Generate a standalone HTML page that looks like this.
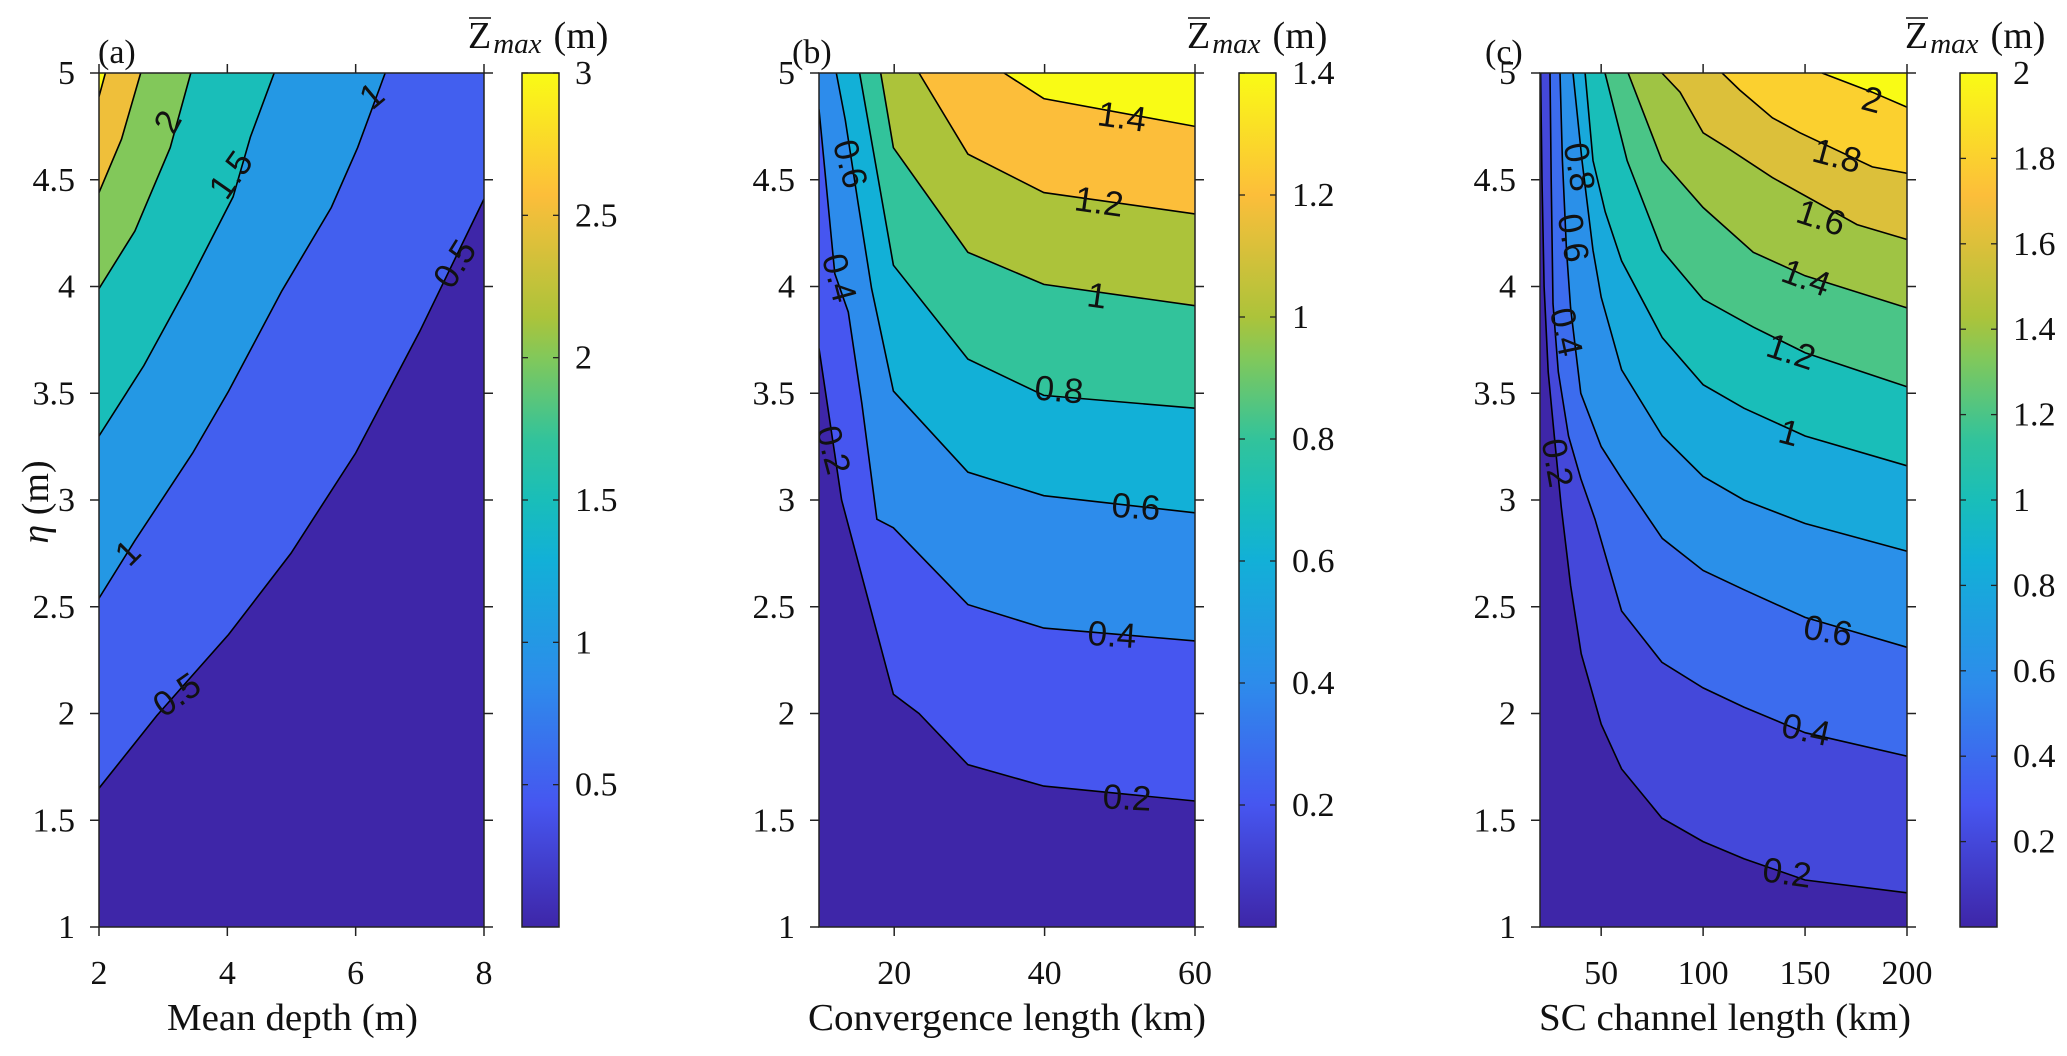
<!DOCTYPE html>
<html><head><meta charset="utf-8"><title>Z max contours</title>
<style>
html,body{margin:0;padding:0;background:#fff;}
svg{display:block;}
text{font-family:"Liberation Serif",serif;fill:#111;}
.cl{font-family:"Liberation Sans",sans-serif;font-size:35px;}
</style></head>
<body>
<svg id="fig" width="2067" height="1056" viewBox="0 0 2067 1056" xmlns="http://www.w3.org/2000/svg">
<defs>
<linearGradient id="parula" x1="0" y1="1" x2="0" y2="0">
<stop offset="0" stop-color="rgb(62,38,168)"/>
<stop offset="0.143" stop-color="rgb(70,86,240)"/>
<stop offset="0.286" stop-color="rgb(45,140,235)"/>
<stop offset="0.43" stop-color="rgb(18,176,215)"/>
<stop offset="0.5" stop-color="rgb(25,190,185)"/>
<stop offset="0.571" stop-color="rgb(50,195,155)"/>
<stop offset="0.667" stop-color="rgb(130,200,90)"/>
<stop offset="0.714" stop-color="rgb(172,195,58)"/>
<stop offset="0.857" stop-color="rgb(252,190,58)"/>
<stop offset="1" stop-color="rgb(249,251,21)"/>
</linearGradient>
</defs>
</svg>
<script>
// ---------- Panel (a) data: mean depth vs eta ----------
const aLevels = [0.5, 1, 1.5, 2, 2.5, 3];
const aXTicks = [2, 4, 6, 8];
const aYTicks = [1, 1.5, 2, 2.5, 3, 3.5, 4, 4.5, 5];
const aCbTicks = [0.5, 1, 1.5, 2, 2.5, 3];
const aC05 = [[2,1.65],[2.9,1.99],[4.02,2.37],[4.99,2.75],[6,3.22],[7,3.79],[8,4.41]];
const aC10 = [[2,2.54],[2.56,2.81],[3.46,3.22],[4.02,3.51],[4.85,3.98],[5.62,4.37],[6.03,4.65],[6.46,5]];
const aC15 = [[2,3.30],[2.7,3.63],[3.39,4.01],[4.09,4.42],[4.36,4.70],[4.73,5]];
const aC20 = [[2,3.99],[2.56,4.26],[3.11,4.65],[3.43,5]];
const aC25 = [[2,4.44],[2.35,4.69],[2.65,5]];
const aC30 = [[2,4.89],[2.1,5]];
const aLabelText = ["2","1.5","1","1","0.5","0.5"];

// ---------- Panel (b) data: convergence length vs eta ----------
const bLevels = [0.2, 0.4, 0.6, 0.8, 1.0, 1.2, 1.4];
const bXTicks = [20, 40, 60];
const bYTicks = [1, 1.5, 2, 2.5, 3, 3.5, 4, 4.5, 5];
const bCbTicks = [0.2, 0.4, 0.6, 0.8, 1, 1.2, 1.4];
const bC02 = [[10,3.71],[13,3.0],[19.9,2.09],[23.3,2.0],[29.8,1.76],[39.9,1.66],[60,1.59]];
const bC04 = [[10,4.83],[11.2,4.39],[12.1,4.06],[13.9,3.88],[15.7,3.45],[17.7,2.91],[19.9,2.87],[29.8,2.51],[39.9,2.40],[60,2.34]];
const bC06 = [[12.3,5],[13.5,4.78],[15.2,4.39],[17,3.99],[19.9,3.51],[29.8,3.13],[39.9,3.02],[60,2.94]];
const bC08 = [[15.4,5],[19.9,4.10],[29.8,3.66],[39.9,3.49],[60,3.43]];
const bC10 = [[18.2,5],[19.9,4.65],[29.8,4.16],[39.9,4.01],[60,3.91]];
const bC12 = [[23.3,5],[29.8,4.62],[39.9,4.44],[60,4.34]];
const bC14 = [[34.6,5],[39.9,4.88],[60,4.75]];
const bLabelText = ["1.4","1.2","1","0.8","0.6","0.4","0.2","0.6","0.4","0.2"];

// ---------- Panel (c) data: SC channel length vs eta ----------
const cLevels = [0.2, 0.4, 0.6, 0.8, 1.0, 1.2, 1.4, 1.6, 1.8, 2.0];
const cXTicks = [50, 100, 150, 200];
const cYTicks = [1, 1.5, 2, 2.5, 3, 3.5, 4, 4.5, 5];
const cCbTicks = [0.2, 0.4, 0.6, 0.8, 1, 1.2, 1.4, 1.6, 1.8, 2];
const cC02 = [[20.3,5],[21,4.5],[22,4.0],[24,3.6],[27,3.3],[30.4,2.97],[35,2.6],[40.2,2.28],[50,1.95],[60,1.74],[79.8,1.51],[100,1.40],[120,1.32],[150,1.22],[200,1.16]];
const cC04 = [[24.9,5],[25.5,4.5],[26.4,3.92],[29,3.6],[34,3.3],[40,3.1],[47,2.91],[60,2.48],[79.8,2.24],[100,2.12],[120,2.03],[150,1.91],[200,1.80]];
const cC06 = [[29.8,5],[31,4.59],[33,4.17],[35,3.9],[40,3.5],[50,3.25],[60,3.10],[80,2.82],[100,2.67],[120,2.58],[150,2.45],[200,2.31]];
const cC08 = [[36.2,5],[40.6,4.59],[46,4.17],[50,3.95],[60,3.61],[80,3.30],[100,3.11],[120,3.0],[150,2.89],[200,2.76]];
const cC10 = [[42.1,5],[46,4.59],[52,4.35],[60,4.12],[80,3.76],[100,3.54],[120,3.43],[150,3.30],[200,3.16]];
const cC12 = [[51.9,5],[62.7,4.59],[79.8,4.17],[100,3.94],[124.6,3.81],[150,3.69],[200,3.53]];
const cC14 = [[63.2,5],[79.8,4.59],[100,4.37],[124.6,4.16],[150,4.05],[200,3.9]];
const cC16 = [[79.8,5],[88.7,4.91],[100,4.72],[111.7,4.65],[134,4.51],[175.5,4.29],[200,4.22]];
const cC18 = [[109.3,5],[118,4.92],[134,4.79],[147.5,4.72],[183,4.56],[200,4.53]];
const cC20 = [[158.3,5],[183,4.91],[200,4.84]];
const cLabelText = ["2","1.8","1.6","1.4","1.2","1","0.6","0.4","0.2","0.8","0.6","0.4","0.2"];

// ---------- rendering ----------
const NS = "http://www.w3.org/2000/svg";
const svg = document.getElementById("fig");
const ANCH = [[0,62,38,168],[0.143,70,86,240],[0.286,45,140,235],[0.43,18,176,215],[0.5,25,190,185],[0.571,50,195,155],[0.667,130,200,90],[0.714,172,195,58],[0.857,252,190,58],[1,249,251,21]];
function parula(t){
  t=Math.max(0,Math.min(1,t));
  for(let i=1;i<ANCH.length;i++){
    if(t<=ANCH[i][0]){
      const a=ANCH[i-1],b=ANCH[i],f=(t-a[0])/(b[0]-a[0]);
      return "rgb("+[1,2,3].map(k=>Math.round(a[k]+(b[k]-a[k])*f)).join(",")+")";
    }
  }
  return "rgb(249,251,21)";
}
function mk(tag, parent){ const e=document.createElementNS(NS,tag); parent.appendChild(e); return e; }
function fmt(v){ return String(v); }

function drawPanel(p){
  const g = mk("g", svg);
  
  
  const sx = v => p.L + (v - p.xmin) / (p.xmax - p.xmin) * (p.R - p.L);
  const sy = v => p.B - (v - p.ymin) / (p.ymax - p.ymin) * (p.B - p.T);
  const cnorm = v => (v - p.cmin) / (p.cmax - p.cmin);

  const clip = mk("clipPath", g);
  clip.setAttribute("id", p.id + "clip");
  const cr = mk("rect", clip);
  cr.setAttribute("x", p.L); cr.setAttribute("y", p.T);
  cr.setAttribute("width", p.R - p.L); cr.setAttribute("height", p.B - p.T);

  const plot = mk("g", g);
  plot.setAttribute("clip-path", "url(#" + p.id + "clip)");
  
  

  const bg = mk("rect", plot);
  
  
  bg.setAttribute("x", p.L); bg.setAttribute("y", p.T);
  bg.setAttribute("width", p.R - p.L); bg.setAttribute("height", p.B - p.T);
  bg.setAttribute("fill", parula(0));

  p.lines.forEach((ln, k) => {
    const pts = ln.concat([[p.xmax, p.ymax], [p.xmin, p.ymax]]);
    const poly = mk("polygon", plot);
    
    
    poly.setAttribute("points", pts.map(q => sx(q[0]).toFixed(1) + "," + sy(q[1]).toFixed(1)).join(" "));
    poly.setAttribute("fill", parula(cnorm(p.levels[k])));
  });
  p.lines.forEach((ln, k) => {
    const pl = mk("polyline", plot);
    
    
    pl.setAttribute("points", ln.map(q => sx(q[0]).toFixed(1) + "," + sy(q[1]).toFixed(1)).join(" "));
    pl.setAttribute("fill", "none"); pl.setAttribute("stroke", "#000"); pl.setAttribute("stroke-width", "1.6");
  });
  p.labels.forEach((lb, i) => {
    const t = mk("text", plot);
    
    
    t.setAttribute("class", "cl");
    t.setAttribute("text-anchor", "middle");
    t.setAttribute("dominant-baseline", "central");
    t.setAttribute("transform", "translate(" + lb[0] + "," + lb[1] + ") rotate(" + lb[2] + ")");
    t.textContent = p.labelText[i];
  });

  const box = mk("rect", g);
  
  
  box.setAttribute("x", p.L); box.setAttribute("y", p.T);
  box.setAttribute("width", p.R - p.L); box.setAttribute("height", p.B - p.T);
  box.setAttribute("fill", "none"); box.setAttribute("stroke", "#222"); box.setAttribute("stroke-width", "1.5");

  p.xticks.forEach(v => {
    const x = sx(v);
    [[p.B, p.B + 9], [p.T, p.T - 9]].forEach(s => {
      const l = mk("line", g);
      
      
      l.setAttribute("x1", x); l.setAttribute("x2", x); l.setAttribute("y1", s[0]); l.setAttribute("y2", s[1]);
      l.setAttribute("stroke", "#222"); l.setAttribute("stroke-width", "1.5");
    });
    const t = mk("text", g);
    
    
    t.setAttribute("x", x); t.setAttribute("y", 984);
    t.setAttribute("text-anchor", "middle"); t.setAttribute("font-size", "34");
    t.textContent = fmt(v);
  });
  p.yticks.forEach(v => {
    const y = sy(v);
    [[p.L, p.L - 9], [p.R, p.R + 9]].forEach(s => {
      const l = mk("line", g);
      
      
      l.setAttribute("x1", s[0]); l.setAttribute("x2", s[1]); l.setAttribute("y1", y); l.setAttribute("y2", y);
      l.setAttribute("stroke", "#222"); l.setAttribute("stroke-width", "1.5");
    });
    const t = mk("text", g);
    
    
    t.setAttribute("x", p.L - 24); t.setAttribute("y", y + 11);
    t.setAttribute("text-anchor", "end"); t.setAttribute("font-size", "34");
    t.textContent = fmt(v);
  });
  const xl = mk("text", g);
  
  
  xl.setAttribute("x", p.xlX); xl.setAttribute("y", 1030);
  xl.setAttribute("font-size", "38");
  xl.setAttribute("textLength", p.xlW); xl.setAttribute("lengthAdjust", "spacingAndGlyphs");
  xl.textContent = p.xlabel;
  const pt = mk("text", g);
  
  
  pt.setAttribute("x", p.tagX); pt.setAttribute("y", 63);
  pt.setAttribute("font-size", "34");
  pt.textContent = p.tag;

  const cb = mk("rect", g);
  
  
  cb.setAttribute("x", p.cbL); cb.setAttribute("y", p.T);
  cb.setAttribute("width", 37); cb.setAttribute("height", p.B - p.T);
  cb.setAttribute("fill", "url(#parula)"); cb.setAttribute("stroke", "#222"); cb.setAttribute("stroke-width", "1.5");
  const cy = v => p.B - cnorm(v) * (p.B - p.T);
  p.cbTicks.forEach(v => {
    const y = cy(v);
    [[p.cbL, p.cbL + 6], [p.cbL + 37, p.cbL + 31]].forEach(s => {
      const l = mk("line", g);
      
      
      l.setAttribute("x1", s[0]); l.setAttribute("x2", s[1]); l.setAttribute("y1", y); l.setAttribute("y2", y);
      l.setAttribute("stroke", "#222"); l.setAttribute("stroke-width", "1.3");
    });
    const t = mk("text", g);
    
    
    t.setAttribute("x", p.cbL + 53); t.setAttribute("y", y + 11);
    t.setAttribute("font-size", "34");
    t.textContent = fmt(v);
  });
  const ct = mk("text", g);
  
  
  ct.setAttribute("x", p.ctX); ct.setAttribute("y", 48);
  ct.setAttribute("font-size", "38");
  const z = mk("tspan", ct); z.textContent = "Z";
  const m = mk("tspan", ct); m.setAttribute("font-style", "italic"); m.setAttribute("font-size", "29"); m.setAttribute("dy", "5"); m.setAttribute("dx", "2"); m.textContent = "max";
  const u = mk("tspan", ct); u.setAttribute("dy", "-5"); u.setAttribute("dx", "12"); u.textContent = "(m)";
  const ov = mk("line", g);
  
  
  ov.setAttribute("x1", p.ctX + 1); ov.setAttribute("x2", p.ctX + 23); ov.setAttribute("y1", 18); ov.setAttribute("y2", 18);
  ov.setAttribute("stroke", "#111"); ov.setAttribute("stroke-width", "1.6");
}

drawPanel({id:"a", L:99, R:484, T:73, B:927, xmin:2, xmax:8, ymin:1, ymax:5, cmin:0, cmax:3,
  levels:aLevels, lines:[aC05,aC10,aC15,aC20,aC25,aC30], xticks:aXTicks, yticks:aYTicks, cbTicks:aCbTicks,
  cbL:522, ctX:468, tagX:98, tag:"(a)", xlabel:"Mean depth (m)", xlX:167, xlW:251, labelText:aLabelText,
  labels:[[168,122,-62],[231,175,-55],[372,96,-40],[128,553,-45],[177,695,-35],[455,264,-58]]});

drawPanel({id:"b", L:819, R:1195, T:73, B:927, xmin:10, xmax:60, ymin:1, ymax:5, cmin:0, cmax:1.4,
  levels:bLevels, lines:[bC02,bC04,bC06,bC08,bC10,bC12,bC14], xticks:bXTicks, yticks:bYTicks, cbTicks:bCbTicks,
  cbL:1239, ctX:1187, tagX:792, tag:"(b)", xlabel:"Convergence length (km)", xlX:808, xlW:398, labelText:bLabelText,
  labels:[[1122,117,8],[1099,202,8],[1097,296,8],[1059,390,5],[1136,507,4],[1112,635,4],[1127,798,3],[850,164,75],[839,278,75],[833,450,75]]});

drawPanel({id:"c", L:1540, R:1907, T:73, B:927, xmin:20, xmax:200, ymin:1, ymax:5, cmin:0, cmax:2,
  levels:cLevels, lines:[cC02,cC04,cC06,cC08,cC10,cC12,cC14,cC16,cC18,cC20], xticks:cXTicks, yticks:cYTicks, cbTicks:cCbTicks,
  cbL:1960, ctX:1905, tagX:1485, tag:"(c)", xlabel:"SC channel length (km)", xlX:1539, xlW:372, labelText:cLabelText,
  labels:[[1872,100,15],[1837,156,15],[1821,218,18],[1806,278,20],[1791,352,18],[1789,433,15],[1828,631,10],[1806,730,12],[1787,873,8],[1579,167,80],[1573,238,80],[1566,332,78],[1557,463,80]]});

const yt = mk("text", svg);


yt.setAttribute("transform", "translate(48,502) rotate(-90)");
yt.setAttribute("text-anchor", "middle");
yt.setAttribute("font-size", "38");
const eta = mk("tspan", yt); eta.setAttribute("font-style", "italic"); eta.textContent = "η";
const etu = mk("tspan", yt); etu.textContent = " (m)";
</script>
</body></html>
